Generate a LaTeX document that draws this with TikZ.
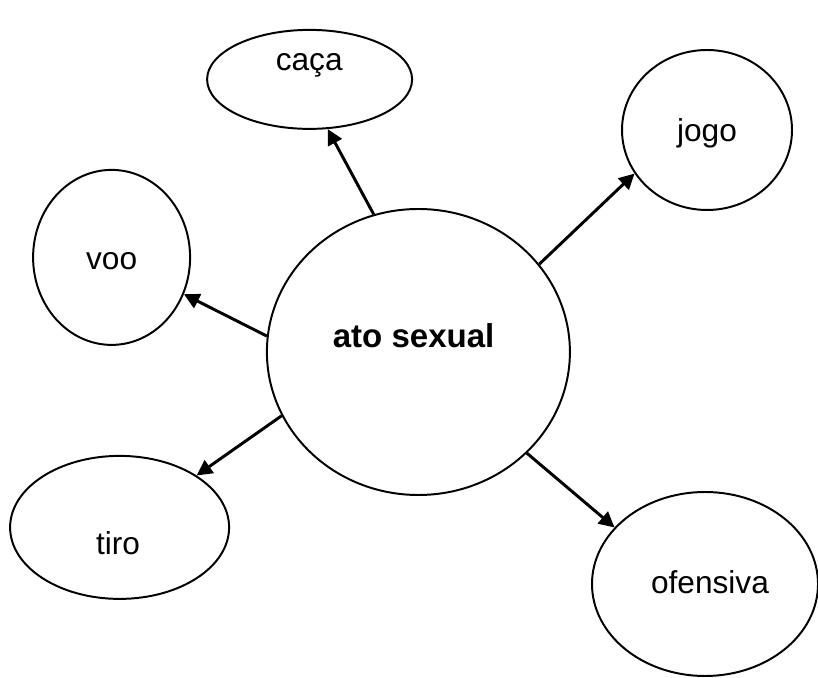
\documentclass[tikz,border=0pt]{standalone}
\usepackage{fontspec}
\setmainfont{Liberation Sans}
\usepackage{tikz}
\usetikzlibrary{shapes.geometric}
\usetikzlibrary{arrows.meta}
\usetikzlibrary{calc}

\tikzset{
  bubble/.style={draw, ellipse, line width=1.4pt, inner sep=0pt},
  word/.style={anchor=base, font=\fontsize{22.5}{27}\selectfont},
  link/.style={-{Triangle[length=11pt,width=11pt]}, line width=2.1pt},
}

\begin{document}
\begin{tikzpicture}
            \useasboundingbox (0,0) rectangle (20.45,16.925);

            % Central bubble
            \node[bubble, minimum width=7.575cm, minimum height=7.15cm] (ato) at (10.46,8.125) {};
            \node[word, font=\fontsize{23.5}{28}\selectfont\bfseries] (atotxt) at (10.34,8.24) {ato sexual};

            % Outer bubbles
            \node[bubble, minimum width=5.125cm, minimum height=2.475cm] (caca) at (7.74,14.94) {};
            \node[bubble, minimum width=4.25cm, minimum height=4.0cm] (jogo) at (17.675,13.675) {};
            \node[bubble, minimum width=3.925cm, minimum height=4.375cm] (voo) at (2.79,10.49) {};
            \node[bubble, minimum width=5.475cm, minimum height=3.575cm] (tiro) at (2.99,3.74) {};
            \node[bubble, minimum width=5.65cm, minimum height=4.6cm] (ofensiva) at (17.625,2.325) {};

            % Labels
            \node[word] (cacatxt) at (7.73,15.15) {caça};
            \node[word] (jogotxt) at (17.675,13.39) {jogo};
            \node[word] (vootxt) at (2.79,10.19) {voo};
            \node[word] (tirotxt) at (2.95,3.07) {tiro};
            \node[word] (ofensivatxt) at (17.75,2.08) {ofensiva};

            % Arrows
            \draw[link] (ato.108.9) -- (caca.-70);
            \draw[link] (ato.36.1) -- (jogo.211);
            \draw[link] (ato.174.3) -- (voo.-27.4);
            \draw[link] (ato.205.1) -- (tiro.34);
            \draw[link] (ato.-43.5) -- (ofensiva.148.4);
        \end{tikzpicture}
\end{document}
